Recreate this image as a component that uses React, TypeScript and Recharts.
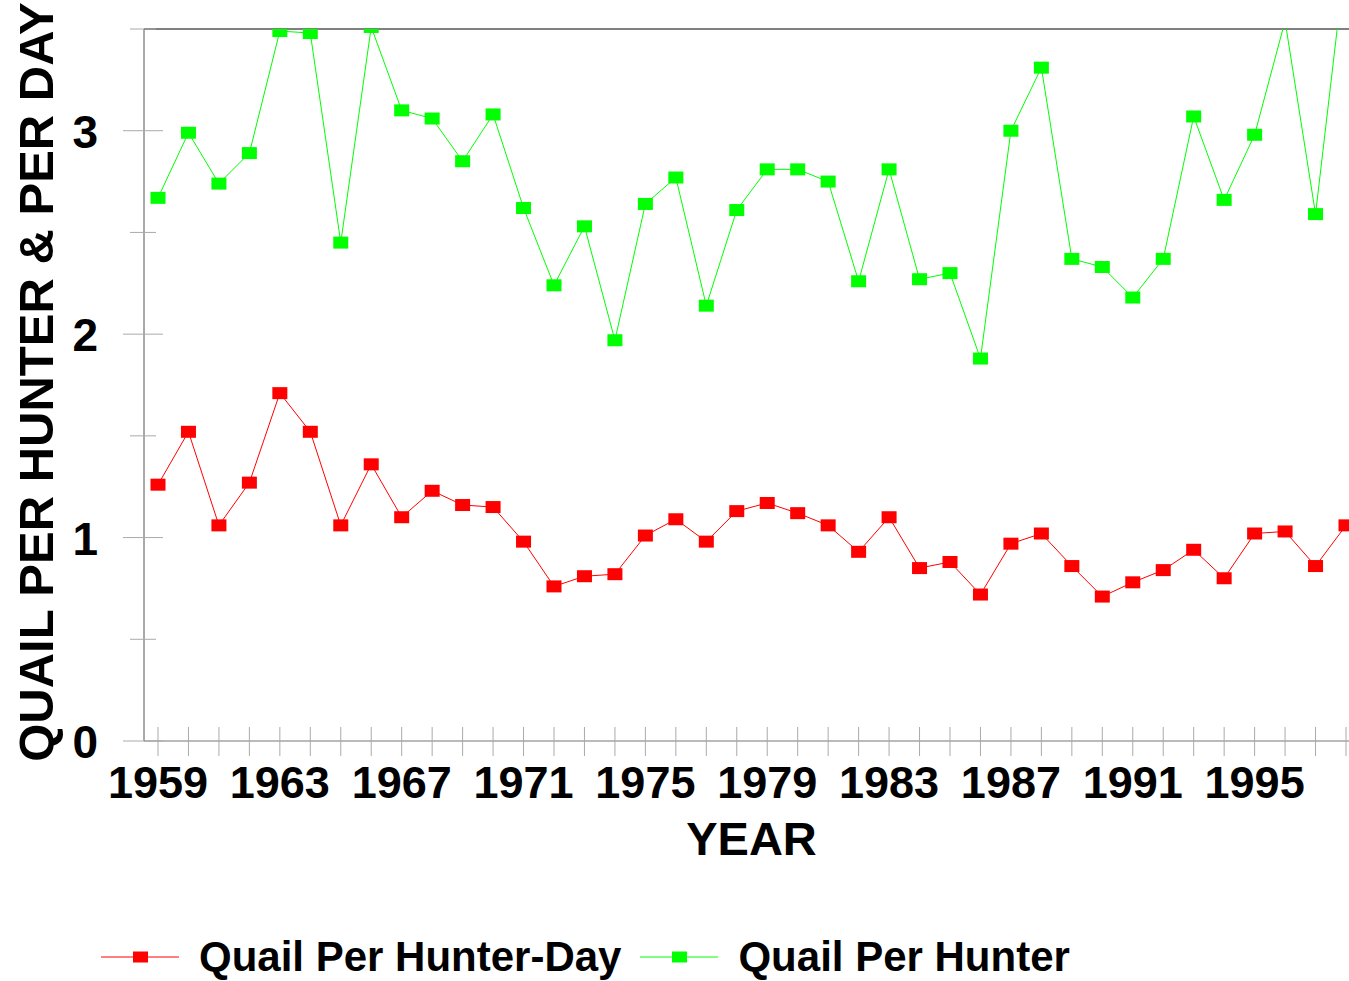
import React from "react";
import {
  LineChart,
  Line,
  XAxis,
  YAxis,
  Legend,
  ReferenceLine,
} from "recharts";

const years = [
  1959, 1960, 1961, 1962, 1963, 1964, 1965, 1966, 1967, 1968,
  1969, 1970, 1971, 1972, 1973, 1974, 1975, 1976, 1977, 1978,
  1979, 1980, 1981, 1982, 1983, 1984, 1985, 1986, 1987, 1988,
  1989, 1990, 1991, 1992, 1993, 1994, 1995, 1996, 1997, 1998,
];

const perHunterDay = [
  1.26, 1.52, 1.06, 1.27, 1.71, 1.52, 1.06, 1.36, 1.1, 1.23,
  1.16, 1.15, 0.98, 0.76, 0.81, 0.82, 1.01, 1.09, 0.98, 1.13,
  1.17, 1.12, 1.06, 0.93, 1.1, 0.85, 0.88, 0.72, 0.97, 1.02,
  0.86, 0.71, 0.78, 0.84, 0.94, 0.8, 1.02, 1.03, 0.86, 1.06,
];

const perHunter = [
  2.67, 2.99, 2.74, 2.89, 3.49, 3.48, 2.45, 3.51, 3.1, 3.06,
  2.85, 3.08, 2.62, 2.24, 2.53, 1.97, 2.64, 2.77, 2.14, 2.61,
  2.81, 2.81, 2.75, 2.26, 2.81, 2.27, 2.3, 1.88, 3.0, 3.31,
  2.37, 2.33, 2.18, 2.37, 3.07, 2.66, 2.98, 3.54, 2.59, 3.87,
];

const yTicks = [0, 0.5, 1, 1.5, 2, 2.5, 3, 3.5];
const labelEvery = 4;

const data = years.map((year, i) => ({
  year,
  perHunterDay: perHunterDay[i],
  perHunter: perHunter[i],
}));

const FONT = "'Liberation Sans', Arial, Helvetica, sans-serif";

const makeDot = (color: string) => (props: any) => {
  const { cx, cy, index } = props;
  if (cx == null || cy == null) return <g key={index} />;
  return (
    <rect
      key={index}
      x={cx - 7.5}
      y={cy - 6}
      width={15}
      height={12}
      fill={color}
    />
  );
};

const YTick = ({ x, y, payload }: any) => {
  const major = Number.isInteger(payload.value);
  return (
    <g>
      <line
        x1={major ? x - 21 : x - 14}
        x2={major ? x + 19 : x + 12}
        y1={y}
        y2={y}
        stroke="#aaaaaa"
        strokeWidth={1}
      />
      {major && (
        <text
          x={x - 46}
          y={y + 17}
          textAnchor="end"
          fontSize={46}
          fontWeight="bold"
          fontFamily={FONT}
          fill="#000"
        >
          {payload.value}
        </text>
      )}
    </g>
  );
};

const XTick = ({ x, y, payload }: any) => {
  const show = (payload.value - years[0]) % labelEvery === 0;
  return (
    <g>
      <line x1={x} x2={x} y1={y - 14} y2={y + 15} stroke="#aaaaaa" strokeWidth={1} />
      {show && (
        <text
          x={x}
          y={y + 57}
          textAnchor="middle"
          fontSize={45}
          fontWeight="bold"
          fontFamily={FONT}
          fill="#000"
        >
          {payload.value}
        </text>
      )}
    </g>
  );
};

const YLabel = ({ viewBox }: any) => {
  const cx = 36;
  const cy = viewBox.y + viewBox.height / 2 - 3;
  return (
    <text
      x={cx}
      y={cy}
      transform={`rotate(-90, ${cx}, ${cy})`}
      textAnchor="middle"
      dominantBaseline="central"
      fontSize={49}
      fontWeight="bold"
      fontFamily={FONT}
      fill="#000"
    >
      QUAIL PER HUNTER &amp; PER DAY
    </text>
  );
};

const XLabel = ({ viewBox }: any) => (
  <text
    x={viewBox.x + viewBox.width / 2 + 5}
    y={viewBox.y + 114}
    textAnchor="middle"
    fontSize={47}
    fontWeight="bold"
    fontFamily={FONT}
    fill="#000"
  >
    YEAR
  </text>
);

const legendItems = [
  { label: "Quail Per Hunter-Day", color: "#ff0000" },
  { label: "Quail Per Hunter", color: "#00ff00" },
];

const CustomLegend = () => (
  <div
    style={{
      display: "flex",
      alignItems: "center",
      height: 50,
      paddingLeft: 101,
      fontFamily: FONT,
      fontWeight: "bold",
      fontSize: 42,
      color: "#000",
    }}
  >
    {legendItems.map((item, i) => (
      <div
        key={item.label}
        style={{ display: "flex", alignItems: "center", marginLeft: i === 0 ? 0 : 19 }}
      >
        <svg width={78} height={20} style={{ display: "block" }}>
          <line x1={0} x2={78} y1={10} y2={10} stroke={item.color} strokeWidth={1} />
          <rect x={32} y={4.5} width={15} height={11} fill={item.color} />
        </svg>
        <span style={{ marginLeft: 20, lineHeight: "50px", whiteSpace: "nowrap" }}>
          {item.label}
        </span>
      </div>
    ))}
  </div>
);

export default function App() {
  return (
    <div style={{ position: "absolute", left: 0, top: 0, background: "#fff" }}>
      <LineChart
        width={1349}
        height={981}
        data={data}
        margin={{ top: 29, right: 0, left: 0, bottom: 60 }}
        style={{ fontFamily: FONT }}
      >
        <XAxis
          dataKey="year"
          type="number"
          domain={[1959, 1998]}
          ticks={years}
          interval={0}
          padding={{ left: 14, right: 3 }}
          height={130}
          tickSize={0}
          tickMargin={0}
          tickLine={false}
          axisLine={{ stroke: "#777777" }}
          tick={<XTick />}
          label={<XLabel />}
        />
        <YAxis
          type="number"
          domain={[0, 3.5]}
          ticks={yTicks}
          interval={0}
          allowDataOverflow
          width={144}
          tickSize={0}
          tickMargin={0}
          tickLine={false}
          axisLine={{ stroke: "#555555" }}
          tick={<YTick />}
          label={<YLabel />}
        />
        <ReferenceLine y={3.5} stroke="#000" strokeWidth={1} />
        <Legend
          verticalAlign="bottom"
          content={<CustomLegend />}
          wrapperStyle={{ top: 932, left: 0, bottom: "auto", width: 1349, height: 50 }}
        />
        <Line
          dataKey="perHunterDay"
          name="Quail Per Hunter-Day"
          stroke="#ff0000"
          strokeWidth={1}
          dot={makeDot("#ff0000")}
          activeDot={false}
          isAnimationActive={false}
        />
        <Line
          dataKey="perHunter"
          name="Quail Per Hunter"
          stroke="#00ff00"
          strokeWidth={1}
          dot={makeDot("#00ff00")}
          activeDot={false}
          isAnimationActive={false}
        />
      </LineChart>
    </div>
  );
}
